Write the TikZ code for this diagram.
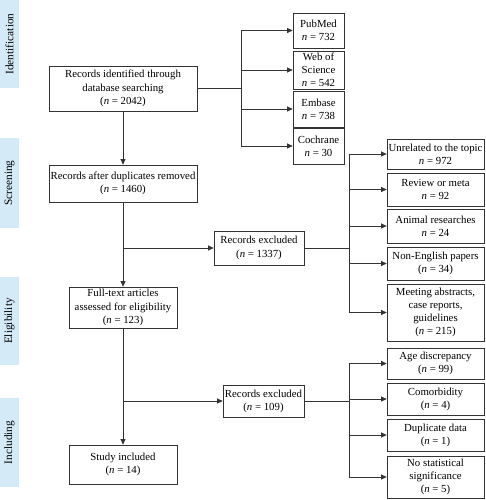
\documentclass[tikz,border=0pt]{standalone}
\usepackage{fontspec}
\setmainfont{Liberation Serif}
\usetikzlibrary{arrows.meta}
\definecolor{band}{HTML}{D5EAF7}
\definecolor{ln}{HTML}{333333}
\begin{document}
\begin{tikzpicture}[x=1pt,y=-1pt,
  box/.style={draw=ln,line width=0.7pt,align=center,inner sep=0pt,font=\fontsize{10.8}{13.2}\selectfont},
  conn/.style={draw=ln,line width=0.7pt},
  arr/.style={conn,-{Triangle[length=5.5pt,width=5pt]}},
  stage/.style={fill=band,inner sep=0pt,rotate=90,font=\fontsize{11.3}{13}\selectfont},
]
\useasboundingbox (0,0) rectangle (485,500);
% stage bands
\node[stage,minimum width=88pt,minimum height=19pt] (sI) at (9.5,44) {Identification};
\node[stage,minimum width=90pt,minimum height=19pt] (sS) at (9.5,183) {Screening};
\node[stage,minimum width=88pt,minimum height=19pt] (sE) at (9.5,321) {Eligibility};
\node[stage,minimum width=89pt,minimum height=19pt] (sC) at (9.5,442.5) {Including};
% main column
\node[box,minimum width=148pt,minimum height=45pt] (id) at (123,88.5) {Records identified through\\database searching\\(\textit{n} = 2042)};
\node[box,minimum width=148pt,minimum height=37pt] (dup) at (123,183.5) {Records after duplicates removed\\(\textit{n} = 1460)};
\node[box,minimum width=108pt,minimum height=41pt] (ft) at (123,307.5) {Full-text articles\\assessed for eligibility\\(\textit{n} = 123)};
\node[box,minimum width=108pt,minimum height=39pt] (inc) at (123,464.5) {Study included\\(\textit{n} = 14)};
% excluded boxes
\node[box,minimum width=90pt,minimum height=34pt] (ex1) at (259,248) {Records excluded\\(\textit{n} = 1337)};
\node[box,minimum width=81pt,minimum height=32pt] (ex2) at (263.5,401) {Records excluded\\(\textit{n} = 109)};
% databases
\node[box,minimum width=51pt,minimum height=35pt] (pm) at (318.5,30.5) {PubMed\\\textit{n} = 732};
\node[box,minimum width=51pt,minimum height=38pt] (ws) at (318.5,70) {Web of\\Science\\\textit{n} = 542};
\node[box,minimum width=51pt,minimum height=36pt] (em) at (318.5,109) {Embase\\\textit{n} = 738};
\node[box,minimum width=51pt,minimum height=36pt] (co) at (318.5,146) {Cochrane\\\textit{n} = 30};
% reasons 1
\node[box,minimum width=97pt,minimum height=30pt] (r1) at (435.5,154) {Unrelated to the topic\\\textit{n} = 972};
\node[box,minimum width=97pt,minimum height=33pt] (r2) at (435.5,189.5) {Review or meta\\\textit{n} = 92};
\node[box,minimum width=97pt,minimum height=34pt] (r3) at (435.5,226) {Animal researches\\\textit{n} = 24};
\node[box,minimum width=97pt,minimum height=33pt] (r4) at (435.5,263.5) {Non-English papers\\(\textit{n} = 34)};
\node[box,minimum width=97pt,minimum height=57pt] (r5) at (435.5,312.5) {Meeting abstracts,\\case reports,\\guidelines\\(\textit{n} = 215)};
% reasons 2
\node[box,minimum width=97pt,minimum height=31pt] (q1) at (435.5,363.5) {Age discrepancy\\(\textit{n} = 99)};
\node[box,minimum width=97pt,minimum height=32pt] (q2) at (435.5,399) {Comorbidity\\(\textit{n} = 4)};
\node[box,minimum width=97pt,minimum height=32pt] (q3) at (435.5,435) {Duplicate data\\(\textit{n} = 1)};
\node[box,minimum width=97pt,minimum height=42pt] (q4) at (435.5,477) {No statistical\\significance\\(\textit{n} = 5)};
% branch coordinates
\coordinate (bx) at (241,0);
\coordinate (cx) at (349,0);
% main flow
\draw[arr] (id) -- (dup);
\draw[arr] (dup) -- (ft);
\draw[arr] (ft) -- (inc);
\draw[arr] (dup.south |- ex1) -- (ex1);
\draw[arr] (ft.south |- ex2) -- (ex2);
% databases
\draw[conn] (id.east) -- (bx |- id.east);
\draw[conn] (bx |- pm.west) -- (bx |- co.west);
\foreach \n in {pm,ws,em,co} \draw[arr] (bx |- \n.west) -- (\n.west);
% reasons 1
\draw[conn] (ex1.east) -- (cx |- ex1.east);
\draw[conn] (cx |- r1.west) -- (cx |- r5.west);
\foreach \n in {r1,r2,r3,r4,r5} \draw[arr] (cx |- \n.west) -- (\n.west);
% reasons 2
\draw[conn] (ex2.east) -- (cx |- ex2.east);
\draw[conn] (cx |- q1.west) -- (cx |- q4.west);
\foreach \n in {q1,q2,q3,q4} \draw[arr] (cx |- \n.west) -- (\n.west);
\end{tikzpicture}
\end{document}
